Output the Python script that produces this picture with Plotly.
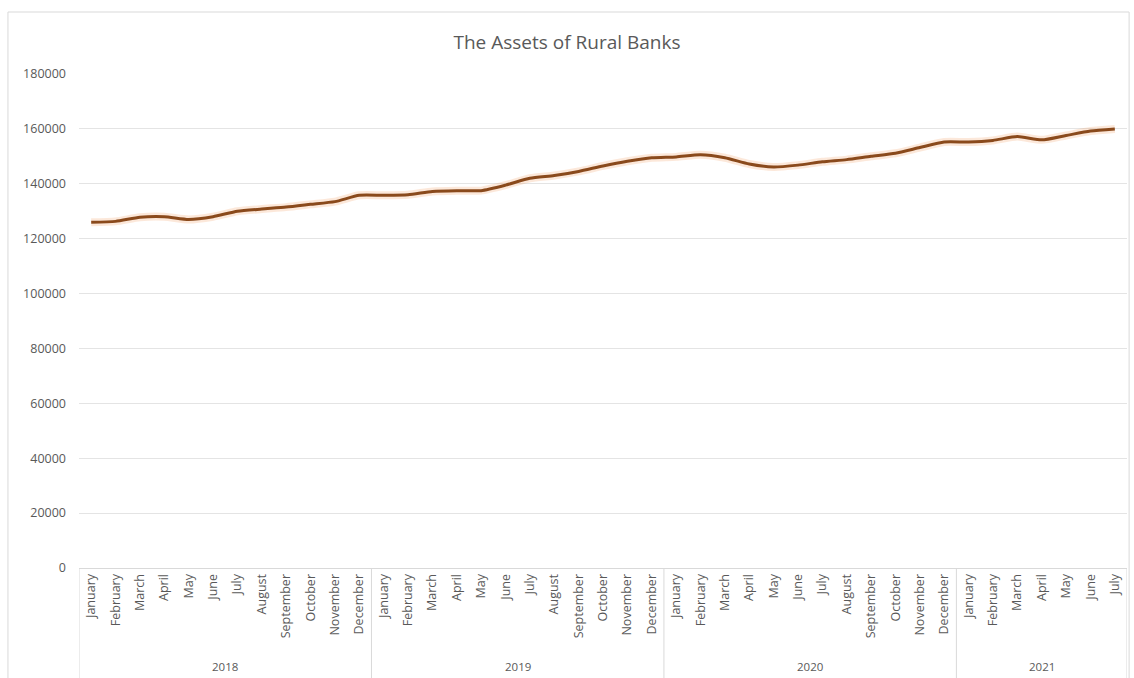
import plotly.graph_objects as go

# Monthly assets of rural banks, January 2018 to July 2021
year_labels = ["2018", "2019", "2020", "2021"]
months_per_year = [12, 12, 12, 7]
month_names = ["January", "February", "March", "April", "May", "June", "July",
               "August", "September", "October", "November", "December"]

assets_2018 = [126000, 126300, 127800, 128000, 127000, 128000,
               130000, 130800, 131500, 132500, 133500, 135800]
assets_2019 = [135800, 136000, 137200, 137500, 137500, 139500,
               142000, 143000, 144500, 146500, 148200, 149500]
assets_2020 = [149800, 150600, 149500, 147200, 146100, 146800,
               148000, 148800, 150000, 151100, 153200, 155200]
assets_2021 = [155200, 155800, 157200, 156000, 157600, 159200, 160000]

y_ticks = list(range(0, 180001, 20000))

# category positions along the x axis
months = []
for n in months_per_year:
    months += month_names[:n]
assets = assets_2018 + assets_2019 + assets_2020 + assets_2021
xpos = list(range(len(months)))

fig = go.Figure()

# soft orange glow beneath the line
fig.add_trace(go.Scatter(
    x=xpos, y=assets, mode="lines",
    line=dict(color="rgba(237,125,49,0.18)", width=8, shape="spline", smoothing=0.6),
    hoverinfo="skip", showlegend=False,
))
fig.add_trace(go.Scatter(
    x=xpos, y=assets, mode="lines",
    line=dict(color="#8a4a1c", width=3, shape="spline", smoothing=0.6),
    name="Assets", showlegend=False,
    customdata=[[m] for m in months],
    hovertemplate="%{customdata[0]}: %{y}<extra></extra>",
))

# year group separators and labels beneath the month labels
shapes = []
annotations = []
start = 0
bounds = [-0.5]
for label, n in zip(year_labels, months_per_year):
    end = start + n
    bounds.append(end - 0.5)
    annotations.append(dict(
        x=start + (n - 1) / 2, y=-0.2, xref="x", yref="paper",
        text=label, showarrow=False, yanchor="middle",
        font=dict(size=11.5, color="#595959"),
    ))
    start = end
for b in bounds:
    shapes.append(dict(type="line", xref="x", yref="paper", x0=b, x1=b,
                       y0=0, y1=-0.25, line=dict(color="#d9d9d9", width=1)))

# outer chart border
shapes.append(dict(type="rect", xref="paper", yref="paper",
                   x0=-0.0678, x1=1.002, y0=-0.25, y1=1.1255,
                   line=dict(color="#d9d9d9", width=1), fillcolor="rgba(0,0,0,0)",
                   layer="below"))

fig.update_layout(
    width=1134, height=678,
    margin=dict(l=79, r=7, t=74, b=110),
    paper_bgcolor="white", plot_bgcolor="white",
    font=dict(family="Open Sans, Liberation Sans, sans-serif", color="#595959"),
    title=dict(text="The Assets of Rural Banks", x=0.5, xanchor="center",
               y=0.938, yanchor="middle",
               font=dict(size=19, color="#595959")),
    xaxis=dict(
        tickvals=xpos, ticktext=months, tickangle=-90,
        tickfont=dict(size=12.5, color="#595959"),
        showgrid=False, showline=True, linecolor="#d9d9d9", linewidth=1,
        zeroline=False, ticks="", range=[-0.5, len(months) - 0.5],
    ),
    yaxis=dict(
        range=[0, 180000], tickvals=y_ticks, ticktext=[str(v) for v in y_ticks],
        showgrid=True, gridcolor="#e4e4e4", gridwidth=1, zeroline=False,
        tickfont=dict(size=12.5, color="#595959"), ticklabelstandoff=12,
    ),
    shapes=shapes,
    annotations=annotations,
)

fig.write_html("out.html")
